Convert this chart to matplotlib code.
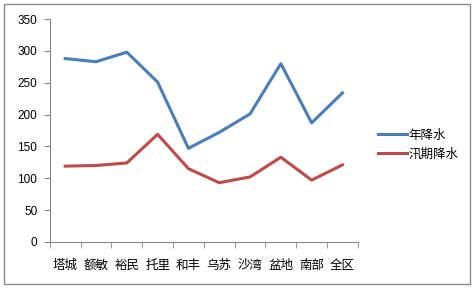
import numpy as np
import matplotlib
matplotlib.use("Agg")
import matplotlib.pyplot as plt
from matplotlib.patches import Rectangle

plt.rcParams['font.family'] = ['Noto Sans CJK SC', 'DejaVu Sans']

# data
regions = ['塔城', '额敏', '裕民', '托里', '和丰', '乌苏', '沙湾', '盆地', '南部', '全区']
annual = [288, 283, 298, 251, 147, 172, 201, 280, 187, 234]
flood = [119, 120, 124, 169, 115, 93, 102, 133, 97, 121]
yticks = [0, 50, 100, 150, 200, 250, 300, 350]

fig = plt.figure(figsize=(4.74, 2.89), dpi=100)
fig.patches.append(Rectangle((0.008, 0.017), 0.984, 0.97, transform=fig.transFigure,
                             fill=False, edgecolor='#8c8c8c', lw=1))
ax = fig.add_axes([0.105, 0.163, 0.65, 0.771])

x = np.arange(len(regions))
ax.plot(x, annual, color='#4a7ebb', lw=2.2, label='年降水')
ax.plot(x, flood, color='#be4b48', lw=2.2, label='汛期降水')

ax.set_xlim(-0.5, len(regions) - 0.5)
ax.set_ylim(0, 350)
ax.set_yticks(yticks)
ax.set_yticklabels([str(v) for v in yticks], family=['Liberation Sans'], fontsize=8.5)
ax.set_xticks(x)
ax.set_xticklabels(regions, fontsize=9)
ax.set_xticks(np.arange(-0.5, len(regions), 1), minor=True)
ax.tick_params(axis='x', which='major', length=0, pad=12)
ax.tick_params(axis='x', which='minor', length=4, color='#868686', direction='out')
ax.tick_params(axis='y', length=4, color='#868686', direction='out', pad=5)

for s in ['top', 'right']:
    ax.spines[s].set_visible(False)
for s in ['left', 'bottom']:
    ax.spines[s].set_color('#868686')

ax.legend(loc='center left', bbox_to_anchor=(1.03, 0.437), frameon=False,
          fontsize=9, handlelength=2.3, handletextpad=0.1, labelspacing=0.45)

fig.savefig('out.png', dpi=100)
